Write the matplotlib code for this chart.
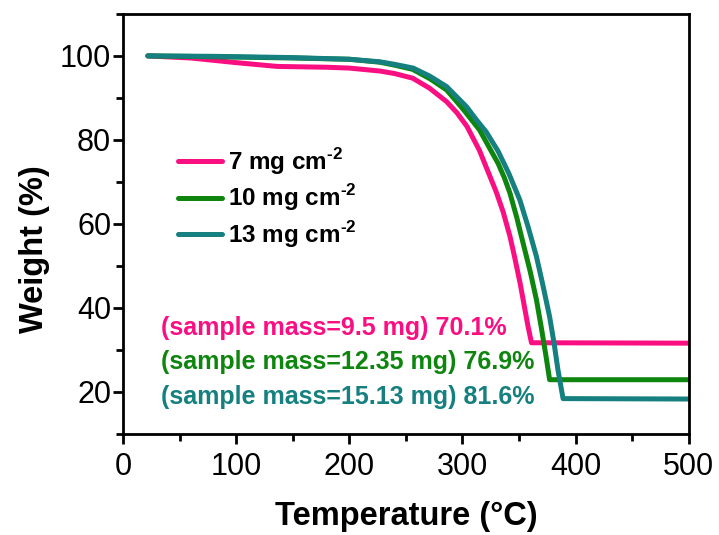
import matplotlib
matplotlib.use('Agg')
import matplotlib.pyplot as plt
from matplotlib.ticker import MultipleLocator

plt.rcParams['font.family'] = ['Liberation Sans', 'DejaVu Sans']
plt.rcParams['mathtext.fontset'] = 'custom'
plt.rcParams['mathtext.rm'] = 'Liberation Sans:bold'
plt.rcParams['mathtext.bf'] = 'Liberation Sans:bold'

# TGA curves
pink_T = [22, 60, 100, 136, 180, 200, 227, 240, 256, 271, 286, 295, 304, 315, 324, 330, 336, 342, 346, 351, 358, 361, 500]
pink_W = [100, 99.5, 98.4, 97.5, 97.3, 97.1, 96.4, 95.8, 94.7, 92.3, 89.1, 86.5, 83.2, 77.5, 71.5, 67.5, 62.8, 57.0, 52.2, 45.8, 35.5, 31.7, 31.6]

green_T = [22, 80, 150, 200, 227, 240, 256, 271, 286, 300, 315, 331.5, 337, 342, 348, 353.6, 360, 365.4, 370, 374, 377, 500]
green_W = [100, 99.8, 99.5, 99.2, 98.5, 97.8, 96.8, 94.6, 91.9, 87.5, 82.4, 74.4, 71.0, 67.3, 61.5, 55.4, 48.5, 41.9, 34.8, 28.2, 22.9, 22.9]

teal_T = [22, 80, 150, 200, 227, 240, 256.5, 271, 286, 303.6, 312, 321, 331.5, 341, 350.7, 358, 365.4, 371, 377, 381, 384.4, 388.9, 500]
teal_W = [100, 99.9, 99.6, 99.2, 98.6, 98.0, 97.1, 95.2, 92.7, 87.9, 84.9, 81.9, 77.3, 72.0, 65.7, 59.3, 52.2, 45.5, 37.9, 31.5, 25.2, 18.4, 18.3]

labels = [r'7 mg cm$^{\text{-2}}$', r'10 mg cm$^{\text{-2}}$', r'13 mg cm$^{\text{-2}}$']
notes = ['(sample mass=9.5 mg) 70.1%', '(sample mass=12.35 mg) 76.9%', '(sample mass=15.13 mg) 81.6%']
colors = ['#FA0F82', '#0E850E', '#15807F']

fig = plt.figure(figsize=(7.19, 5.35), dpi=100)
ax = fig.add_axes([0.171, 0.189, 0.787, 0.785])

for T, W, c, lab in zip([pink_T, green_T, teal_T], [pink_W, green_W, teal_W], colors, labels):
    ax.plot(T, W, color=c, lw=3.6, label=lab, solid_joinstyle='round', solid_capstyle='round')

ax.set_xlim(0, 500)
ax.set_ylim(10, 110)
ax.xaxis.set_major_locator(MultipleLocator(100))
ax.xaxis.set_minor_locator(MultipleLocator(50))
ax.yaxis.set_minor_locator(MultipleLocator(10))
ax.set_yticks([20, 40, 60, 80, 100])
ax.tick_params(which='both', direction='out', width=2, labelsize=22, top=False, right=False)
ax.tick_params(which='major', length=7)
ax.tick_params(which='minor', length=5)
ax.tick_params(axis='x', pad=6)
ax.tick_params(axis='y', pad=1.5)
for s in ax.spines.values():
    s.set_linewidth(2)

ax.set_xlabel('Temperature (°C)', fontsize=23.5, fontweight='bold', labelpad=14)
ax.set_ylabel('Weight (%)', fontsize=23.5, fontweight='bold')
ax.yaxis.set_label_coords(-0.129, 0.44)

leg = ax.legend(loc='center left', bbox_to_anchor=(0.097, 0.562), frameon=False,
                prop={'weight': 'bold', 'size': 17.5}, handlelength=1.8, handletextpad=0.25,
                labelspacing=0.24, borderpad=0, borderaxespad=0)

for note, c, y in zip(notes, colors, [35.2, 27.1, 18.8]):
    ax.text(34, y, note, color=c, fontsize=18, fontweight='bold', va='center', ha='left')

fig.savefig('out.png', dpi=100)
